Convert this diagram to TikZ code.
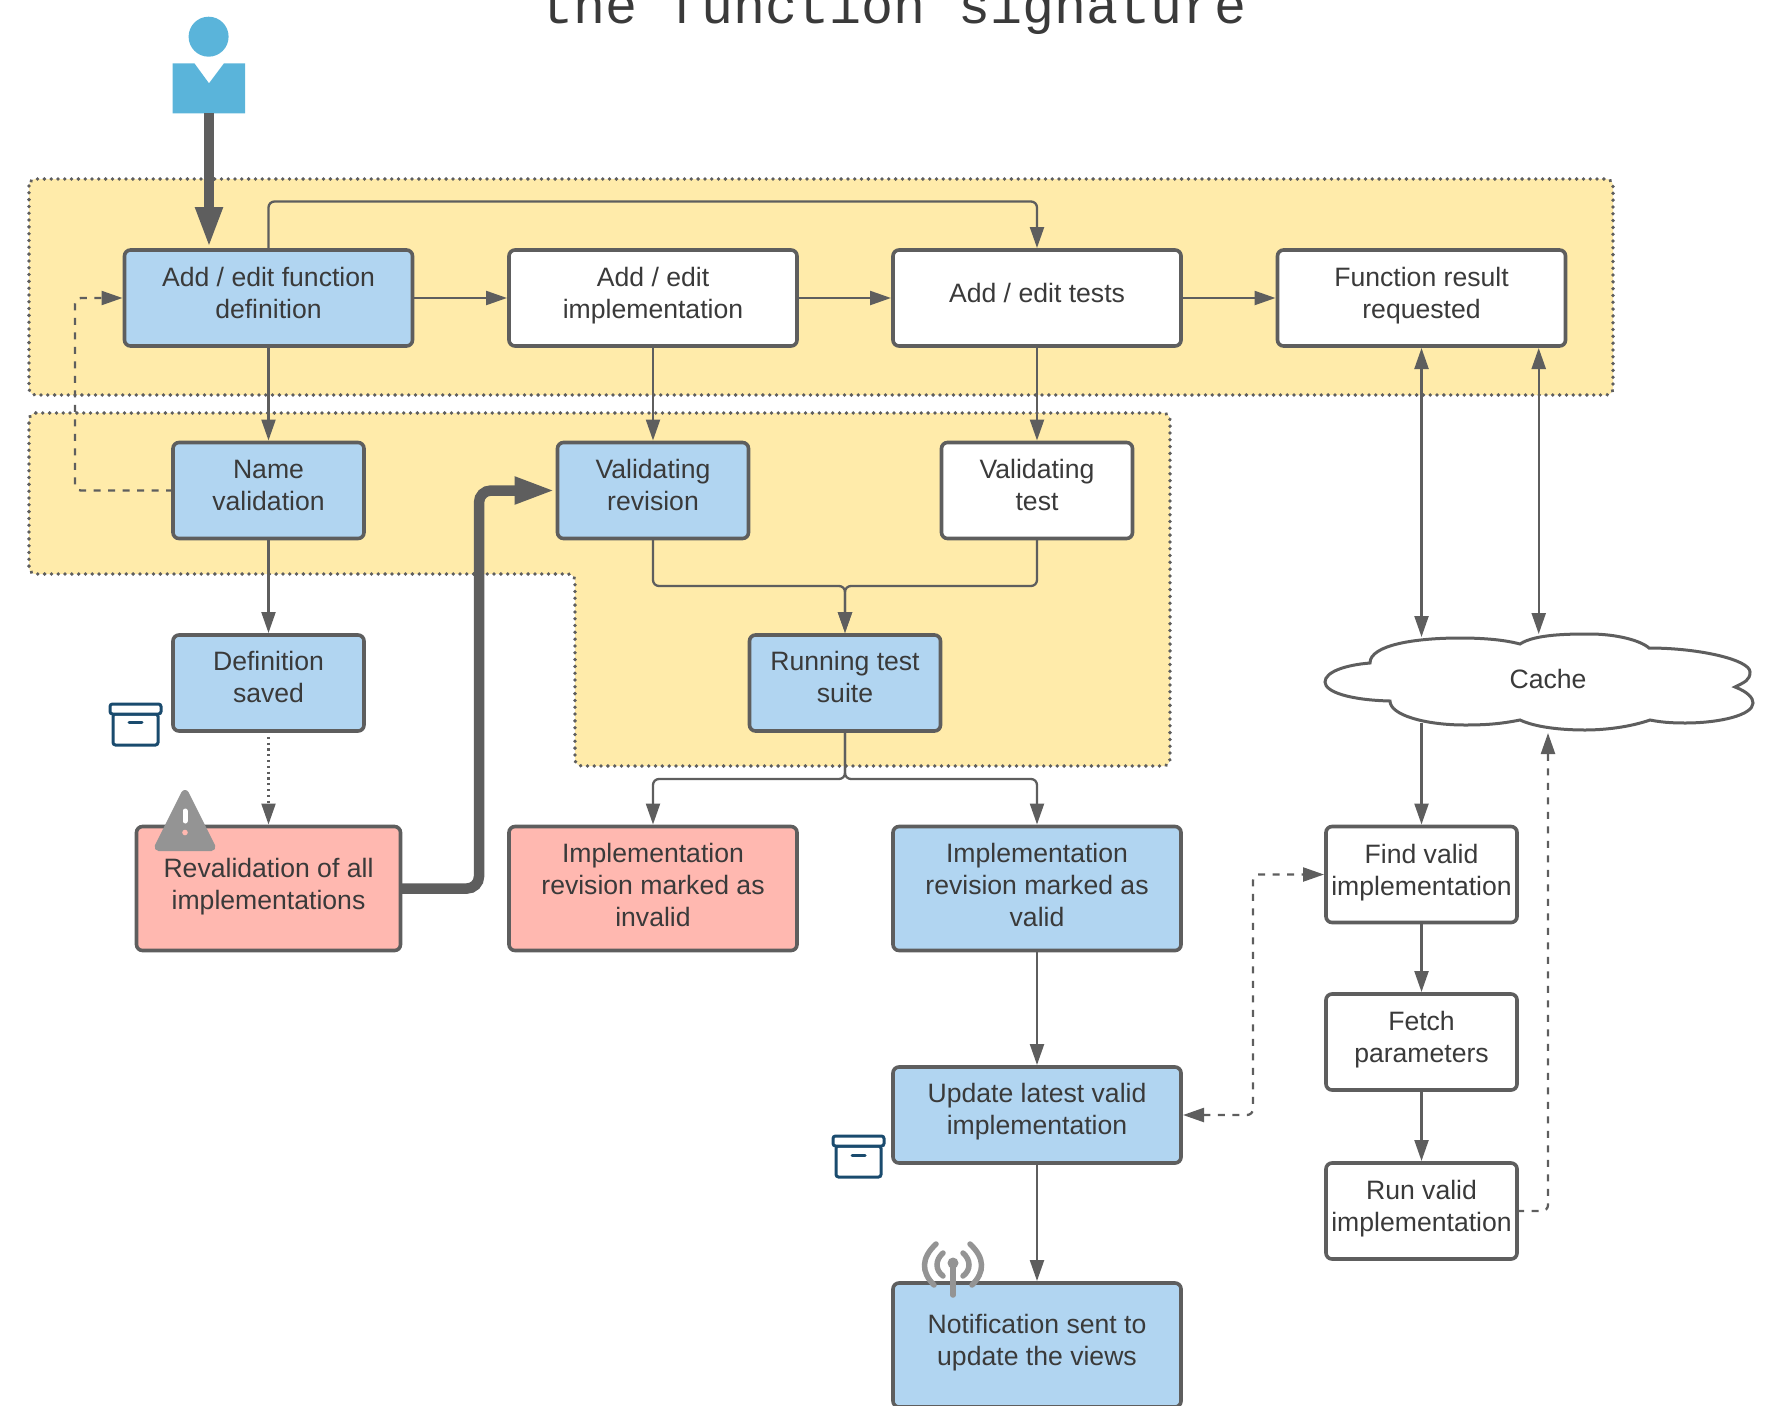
\documentclass[tikz,border=0pt]{standalone}
\usepackage{fontspec}
\setmainfont{Liberation Sans}
\setmonofont{Liberation Mono}
\usetikzlibrary{arrows.meta,calc}
\definecolor{ln}{HTML}{5E5E5E}
\definecolor{tx}{HTML}{3A3A3A}
\definecolor{yel}{HTML}{FFEBAA}
\definecolor{blu}{HTML}{B1D5F1}
\definecolor{redb}{HTML}{FFB8B0}
\definecolor{pers}{HTML}{5AB4DA}
\definecolor{icg}{HTML}{949494}
\definecolor{arch}{HTML}{1A4B6E}
\newcommand{\lowD}{10.8pt}
\tikzset{
  x=1pt,y=-1pt,
  region/.style={fill=yel,draw=ln,line width=3.8pt,line cap=round,dash pattern=on 0.01pt off 6.8pt,rounded corners=7pt},
  bx/.style={draw=ln,line width=3.6pt,rounded corners=6pt,text=tx,align=center,inner sep=0pt,outer sep=0pt,
     font=\fontsize{26.6}{32}\selectfont,minimum height=#1pt,
     execute at begin node={\rule{0pt}{20pt}},execute at end node={\rule[-\lowD]{0pt}{\lowD}}},
  bx/.default=96,
  lower/.code={\renewcommand{\lowD}{#1pt}},
  wide/.style={minimum width=288pt},
  narrow/.style={minimum width=191pt},
  conn/.style={draw=ln,line width=2.3pt,rounded corners=6pt,-{Triangle[length=21pt,width=14pt]},shorten >=2pt},
  bothends/.style={{Triangle[length=21pt,width=14pt]}-{Triangle[length=21pt,width=14pt]},shorten <=2pt},
  dash1/.style={conn,dash pattern=on 7pt off 7.5pt},
  dot1/.style={conn,dash pattern=on 2.2pt off 3.6pt},
  thick1/.style={draw=ln,line width=10.5pt,rounded corners=12pt,-{Triangle[length=41pt,width=25pt]},shorten >=2pt},
  archv/.style={draw=arch,line width=3pt,rounded corners=2.5pt,fill=white},
  anten/.style={draw=icg,line width=5.5pt,line cap=round},
}
\begin{document}
\begin{tikzpicture}
\useasboundingbox (0,0) rectangle (1784,1405);
\node[font=\ttfamily\fontsize{53.4}{53.4}\selectfont,text=tx,anchor=base] (title) at (894,24) {the function signature};
% regions
\path[region] (29,179) rectangle (1613,395);
\path[region] (29,413) -- (1170,413) -- (1170,766) -- (575,766) -- (575,574) -- (29,574) -- cycle;
% person
\fill[pers] (208.6,36.7) circle (20);
\fill[pers] (172.6,63.3) -- (194.4,63.3) -- (209,83.3) -- (224,63.3) -- (245,63.3) -- (245,113.3) -- (172.6,113.3) -- cycle;
\coordinate (person) at (209,113);
% boxes
\node[bx,wide,fill=blu] (fn) at (268.5,298) {Add / edit function\\definition};
\node[bx,wide,fill=white] (impl) at (653,298) {Add / edit\\implementation};
\node[bx,wide,fill=white] (tests) at (1037,298) {Add / edit tests};
\node[bx,wide,fill=white] (result) at (1421.5,298) {Function result\\requested};
\node[bx,narrow,fill=blu] (name) at (268.5,490.5) {Name\\validation};
\node[bx,narrow,fill=blu] (rev) at (653,490.5) {Validating\\revision};
\node[bx,narrow,fill=white] (valt) at (1037,490.5) {Validating\\test};
\node[bx,narrow,fill=blu,lower=12.6] (saved) at (268.5,683) {Definition\\saved};
\node[bx,narrow,fill=blu,lower=12.6] (run) at (845,683) {Running test\\suite};
\node[bx=124,minimum width=264pt,fill=redb,lower=8.8] (reval) at (268.5,888.5) {Revalidation of all\\implementations};
\node[bx=124,wide,fill=redb,lower=6.4] (inv) at (653,888.5) {Implementation\\revision marked as\\invalid};
\node[bx=124,wide,fill=blu,lower=6.4] (val) at (1037,888.5) {Implementation\\revision marked as\\valid};
\node[bx,wide,fill=blu,lower=12] (upd) at (1037,1115) {Update latest valid\\implementation};
\node[bx=124,wide,fill=blu] (notif) at (1037,1345) {Notification sent to\\update the views};
\node[bx,narrow,fill=white,lower=8.8] (find) at (1421.5,874.5) {Find valid\\implementation};
\node[bx,narrow,fill=white] (fetch) at (1421.5,1042) {Fetch\\parameters};
\node[bx,narrow,fill=white] (runv) at (1421.5,1211) {Run valid\\implementation};
% cloud
\path[draw=ln,line width=3pt,fill=white]
  (1370,663) .. controls (1370,645) and (1415,638) .. (1460,638)
  .. controls (1485,638) and (1505,640) .. (1520,644)
  .. controls (1535,634) and (1570,634) .. (1590,634)
  .. controls (1615,634) and (1640,640) .. (1649,648)
  .. controls (1700,648) and (1750,660) .. (1750,672)
  .. controls (1750,680) and (1745,682) .. (1735,687)
  .. controls (1748,692) and (1753,698) .. (1753,703)
  .. controls (1753,715) and (1720,723) .. (1685,723)
  .. controls (1670,723) and (1660,722) .. (1650,720)
  .. controls (1630,727) and (1605,730) .. (1585,730)
  .. controls (1560,730) and (1535,727) .. (1520,720)
  .. controls (1500,724) and (1485,725) .. (1465,725)
  .. controls (1425,725) and (1390,715) .. (1390,701)
  .. controls (1350,700) and (1325,692) .. (1325,682)
  .. controls (1325,672) and (1345,665) .. (1370,663) -- cycle;
\node[font=\fontsize{26.6}{32}\selectfont,text=tx,inner sep=0pt] (cache) at (1548,679) {Cache};
\coordinate (ctop1) at (1421.5,639);
\coordinate (ctop2) at (1538.7,636);
\coordinate (cbot1) at (1421.5,723);
\coordinate (cbot2) at (1548,731);
% connectors
\draw[thick1] (person) -- (person |- fn.north);
\draw[conn] (fn.north) -- ++(0,-48.5) -| (tests.north);
\draw[conn] (fn) -- (impl);
\draw[conn] (impl) -- (tests);
\draw[conn] (tests) -- (result);
\draw[conn] (fn.south) -- (name.north);
\draw[conn] (impl.south) -- (rev.north);
\draw[conn] (tests.south) -- (valt.north);
\draw[dash1] (name.west) -- (75,490.5) -- (75,298) -- (fn.west);
\draw[conn] (name.south) -- (saved.north);
\draw[dot1] (saved.south) -- (reval.north);
\draw[thick1] (reval.east) -- (479,888.5) -- (479,490.5) -- (rev.west);
\draw[conn] (rev.south) |- (845,586) -- (run.north);
\draw[conn] (valt.south) |- (845,586) -- (run.north);
\draw[conn] (run.south) |- (653,779) -- (inv.north);
\draw[conn] (run.south) |- (1037,779) -- (val.north);
\draw[conn] (val.south) -- (upd.north);
\draw[conn] (upd.south) -- (notif.north);
\draw[conn,bothends] (result.south) -- (ctop1);
\draw[conn,bothends] (result.south -| ctop2) -- (ctop2);
\draw[conn] (cbot1) -- (find.north);
\draw[conn] (find.south) -- (fetch.north);
\draw[conn] (fetch.south) -- (runv.north);
\draw[dash1] (runv.east) -- (1548,1211) -- (cbot2);
\draw[dash1,bothends] (upd.east) -- (1253,1115) -- (1253,874.5) -- (find.west);
% archive icons
\draw[archv] (113,714) rectangle (158,745);
\draw[archv] (110,704) rectangle (161,714);
\draw[arch,line width=3pt,line cap=round] (129,722) -- (142,722);
\draw[archv] (836,1146) rectangle (881,1177);
\draw[archv] (833,1136) rectangle (884,1146);
\draw[arch,line width=3pt,line cap=round] (852,1155) -- (865,1155);
% warning icon
\fill[icg,draw=icg,line width=8pt,line join=round] (185,794) -- (158.5,847) -- (211.5,847) -- cycle;
\draw[white,line width=5pt,line cap=round] (185,811) -- (185,821);
\fill[redb] (185,832.5) circle (2.8);
% antenna icon
\draw[anten] (953,1262) -- (953,1295);
\fill[icg] (953,1263) circle (5.5);
\draw[anten] (936,1244) .. controls (921,1258) and (921,1272) .. (934,1285);
\draw[anten] (970,1244) .. controls (985,1258) and (985,1272) .. (972,1285);
\draw[anten] (943,1253) .. controls (935,1260) and (935,1270) .. (943,1276);
\draw[anten] (963,1253) .. controls (971,1260) and (971,1270) .. (963,1276);
\end{tikzpicture}
\end{document}
